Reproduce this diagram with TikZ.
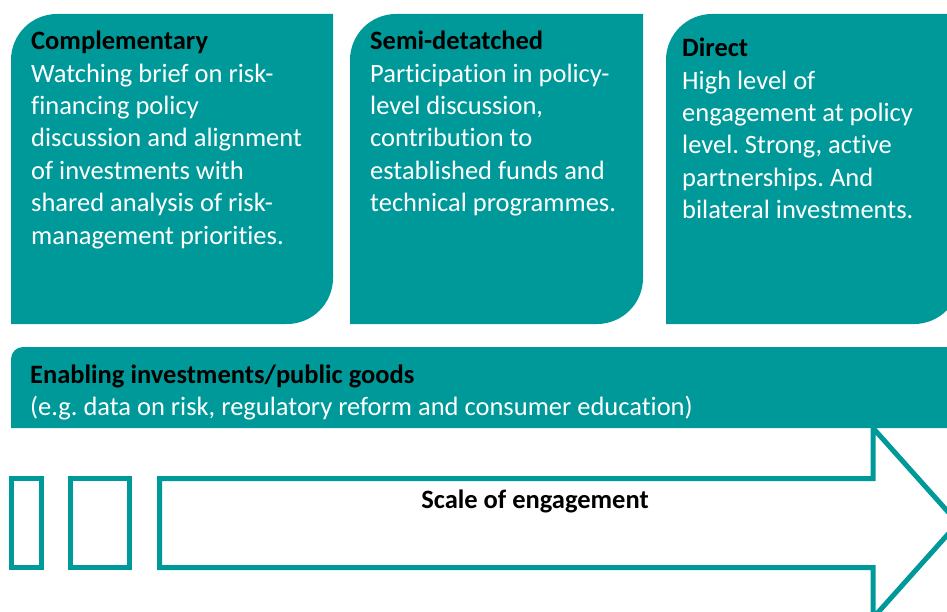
\documentclass[tikz,border=0pt]{standalone}
\usepackage{fontspec}
\setmainfont{Carlito}[Ligatures=NoCommon]
\usetikzlibrary{positioning}
\definecolor{engteal}{RGB}{0,153,153}
\frenchspacing
\tikzset{
        leaf-text/.style={
            anchor=north west, inner sep=0pt, align=left, text=white,
            font=\fontsize{26.5}{32.4}\selectfont
        },
        bar-text/.style={
            anchor=base west, inner sep=0pt, font=\fontsize{26.5}{32.4}\selectfont
        },
        outline/.style={
            draw=engteal, line width=5pt, line join=miter
        },
}
% leaf shaped box: left x, right x (top 14, bottom 324)
\newcommand{\leafbox}[2]{%
    \fill[engteal] (#1,-324) -- (#1,-60) arc[start angle=180, end angle=90, radius=46pt]
        -- (#2,-14) -- (#2,-278) arc[start angle=0, end angle=-90, radius=46pt] -- cycle;}

\begin{document}
\begin{tikzpicture}[x=1pt, y=1pt]
        \useasboundingbox (0,0) rectangle (947,-612);

        %DRAW BOXES
        \leafbox{11}{333}
        \leafbox{350}{643}
        \leafbox{666}{960}
        \fill[engteal] (11,-428) -- (11,-359) arc[start angle=180, end angle=90, radius=12pt]
            -- (960,-347) -- (960,-428) -- cycle;

        %DRAW TEXT NODES
        \node [leaf-text] (comp) at (31,-31)
            {{\color{black}\bfseries Complementary}\\Watching brief on risk-\\financing policy\\discussion and alignment\\of investments with\\shared analysis of risk-\\management priorities.};
        \node [leaf-text] (semi) at (370,-31)
            {{\color{black}\bfseries Semi-detatched}\\Participation in policy-\\level discussion,\\contribution to\\established funds and\\technical programmes.};
        \node [leaf-text] (direct) at (682,-38)
            {{\color{black}\bfseries Direct}\\High level of\\engagement at policy\\level. Strong, active\\partnerships. And\\bilateral investments.};
        \node [bar-text]  (enab)  at (30,-383) {\bfseries Enabling investments/public goods};
        \node [bar-text, text=white, below=0pt of enab.base west, anchor=base west, yshift=-32pt] (eg)
            {(e.g. data on risk, regulatory reform and consumer education)};

        % SCALE ARROW
        \draw [outline] (159.5,-478.5) -- (873,-478.5) -- (873,-428) -- (958,-523)
            -- (873,-618) -- (873,-567.5) -- (159.5,-567.5) -- cycle;
        \draw [outline] (11.5,-478.5) rectangle (41,-567.5);
        \draw [outline] (70.5,-478.5) rectangle (129.5,-567.5);
        \node [bar-text, anchor=base] (scale) at (535,-508) {\bfseries Scale of engagement};

    \end{tikzpicture}
\end{document}
